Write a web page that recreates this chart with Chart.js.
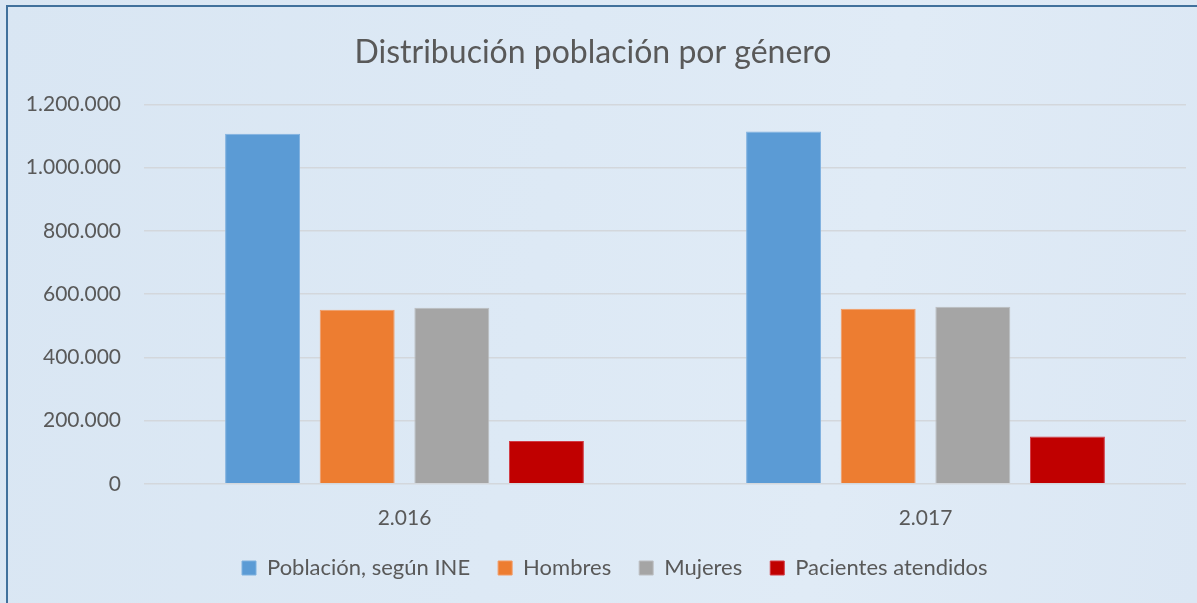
<!DOCTYPE html>
<html>
<head>
<meta charset="utf-8">
<script src="https://cdn.jsdelivr.net/npm/chart.js@4"></script>
<style>
  html, body { margin: 0; padding: 0; }
  #wrap {
    position: relative;
    width: 1197px;
    height: 603px;
    background: linear-gradient(100deg, #d9e6f3 0%, #dde9f5 45%, #e0ebf6 70%, #dbe7f4 100%);
    overflow: hidden;
  }
  #frame {
    position: absolute;
    left: 6px;
    top: 5px;
    width: 1300px;
    height: 700px;
    border-left: 2px solid #41719c;
    border-top: 2px solid #41719c;
  }
  canvas { position: absolute; left: 0; top: 0; }
</style>
</head>
<body>
<div id="wrap">
  <div id="frame"></div>
  <canvas id="chart"></canvas>
</div>
<script>
const years = ['2.016', '2.017'];
const poblacion = [1107000, 1114600];
const hombres = [550500, 553700];
const mujeres = [556800, 560000];
const pacientes = [135000, 149700];
const yTicks = [0, 200000, 400000, 600000, 800000, 1000000, 1200000];
const yTickLabels = ['0', '200.000', '400.000', '600.000', '800.000', '1.000.000', '1.200.000'];

const textColor = '#595959';
const fontFamily = 'Lato, "Open Sans", sans-serif';

// put the legend row where the original has it (first box at x=242, row centre y=568)
const placeLegend = {
    id: 'placeLegend',
    afterLayout(chart) {
        const lg = chart.legend;
        const pad = lg.options.labels.padding;
        const startX = (lg.left + pad + lg.right - lg.lineWidths[0]) / 2;
        const dx = 242 - startX;
        lg.left += dx;
        lg.right += dx;
        const dy = (568 - pad - 11) - lg.top;
        lg.top += dy;
        lg.bottom += dy;
    }
};

const ctx = document.getElementById('chart').getContext('2d');
const chart = new Chart(ctx, {
    type: 'bar',
    data: {
        labels: years,
        datasets: [
            { label: 'Población, según INE', data: poblacion, backgroundColor: '#5b9bd5', borderColor: '#7fb1df', borderWidth: 1 },
            { label: 'Hombres', data: hombres, backgroundColor: '#ed7d31', borderColor: '#f39a62', borderWidth: 1 },
            { label: 'Mujeres', data: mujeres, backgroundColor: '#a5a5a5', borderColor: '#bcbec1', borderWidth: 1 },
            { label: 'Pacientes atendidos', data: pacientes, backgroundColor: '#c00000', borderColor: '#d33a44', borderWidth: 1 }
        ]
    },
    options: {
        responsive: true,
        maintainAspectRatio: false,
        animation: false,
        categoryPercentage: 0.7265,
        barPercentage: 0.792,
        layout: { padding: { left: 0, right: 11, top: 0, bottom: -2 } },
        plugins: {
            title: {
                display: true,
                text: 'Distribución población por género',
                color: textColor,
                font: { family: fontFamily, size: 32, weight: 'normal' },
                padding: { top: 33, bottom: 33 }
            },
            legend: {
                position: 'bottom',
                labels: {
                    color: textColor,
                    font: { family: fontFamily, size: 22 },
                    boxWidth: 14,
                    boxHeight: 14,
                    padding: 28
                }
            },
            tooltip: { enabled: false }
        },
        scales: {
            x: {
                grid: { display: false },
                border: { display: false },
                ticks: { color: textColor, font: { family: fontFamily, size: 21 }, padding: 14 }
            },
            y: {
                min: 0,
                max: 1200000,
                afterBuildTicks(scale) {
                    scale.ticks = yTicks.map(v => ({ value: v }));
                },
                afterFit(scale) { scale.width = 144; },
                grid: { color: '#d3d7dc', lineWidth: 1.5, drawTicks: false },
                border: { display: false },
                ticks: {
                    color: textColor,
                    font: { family: fontFamily, size: 21 },
                    padding: 23,
                    callback: function (value) {
                        return yTickLabels[yTicks.indexOf(value)];
                    }
                }
            }
        }
    },
    plugins: [placeLegend]
});
</script>
</body>
</html>
